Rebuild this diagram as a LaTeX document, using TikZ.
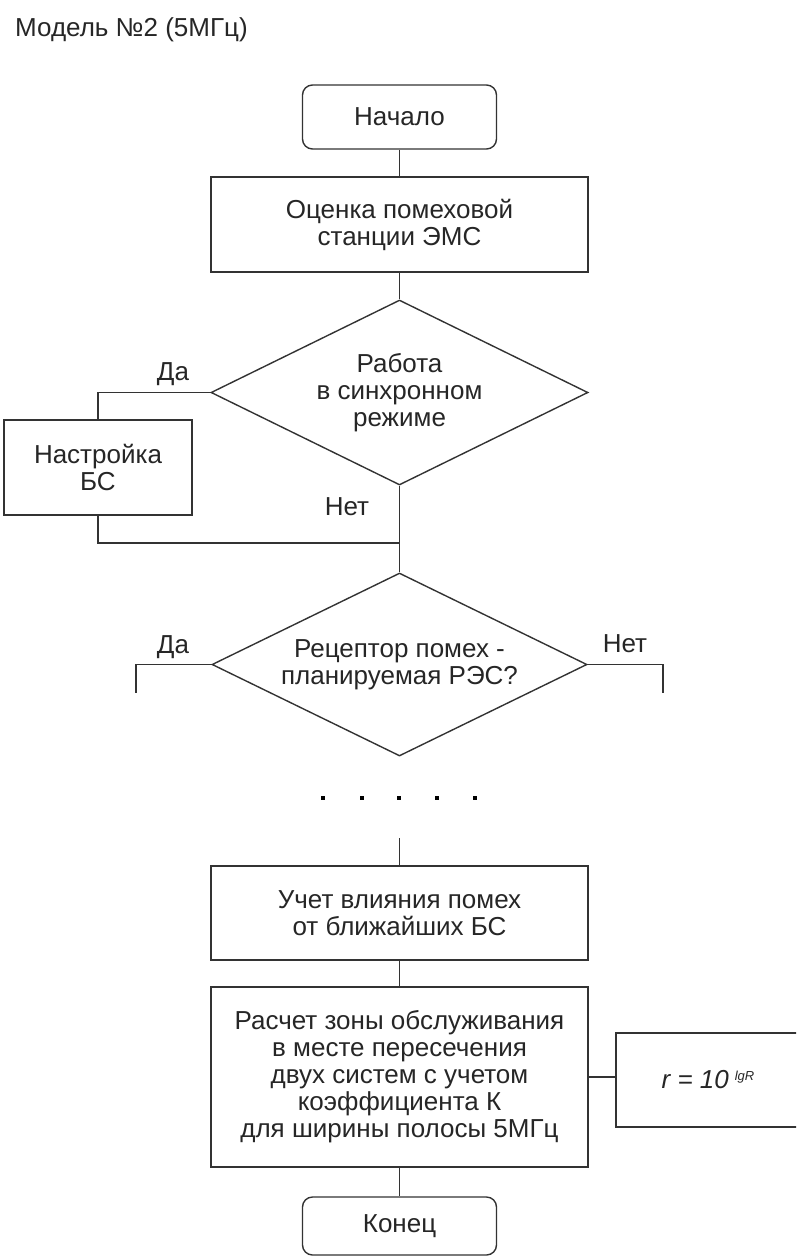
\documentclass[tikz,border=0pt]{standalone}
\usepackage{fontspec}
\setmainfont{Liberation Sans}
\usetikzlibrary{shapes.geometric}
\colorlet{linecol}{black!80}
\colorlet{txtcol}{black!85}
\tikzstyle{txt}=[text=txtcol,font=\fontsize{26}{27}\selectfont,align=center,inner sep=0]
\tikzstyle{block}=[txt,draw=linecol,line width=1.4,minimum width=377,minimum height=95]
\tikzstyle{terminal}=[block,rounded corners=10,minimum width=194,minimum height=64]
\tikzstyle{decision}=[txt,diamond,draw=linecol,line width=1.4,aspect=2.04,
  minimum width=377,minimum height=185]
\tikzstyle{flow}=[linecol,line width=1.4]
\tikzstyle{label}=[txt,anchor=base]
\def\Xc{399.5}

\begin{document}
\begin{tikzpicture}[x=1pt,y=-1pt]
  \useasboundingbox (0,0) rectangle (796,1258);
  \clip (0,0) rectangle (796,1258);

  % TITLE
  \node[txt,anchor=base west] (title) at (15,36) {Модель №2 (5МГц)};

  % BLOCKS
  \node[terminal] (start) at (\Xc,117) {Начало};
  \node[block] (est) at (\Xc,224.5) {Оценка помеховой\\станции ЭМС};
  \node[decision] (sync) at (\Xc,392.5) {Работа\\в синхронном\\режиме};
  \node[block,minimum width=188] (tune) at (98,467.5) {Настройка\\БС};
  \node[decision,minimum width=375,minimum height=183] (recep) at (\Xc,664.5)
    {Рецептор помех -\\планируемая РЭС?};
  \node[block,minimum height=94] (infl) at (\Xc,913) {Учет влияния помех\\от ближайших БС};
  \node[block,minimum height=180] (calc) at (\Xc,1077)
    {Расчет зоны обслуживания\\в месте пересечения\\двух систем с учетом\\коэффициента К\\для ширины полосы 5МГц};
  \node[terminal,minimum height=58] (end) at (\Xc,1226) {Конец};
  \node[block,minimum width=184,minimum height=94] (rbox) at (708,1080)
    {\itshape r = 10\hspace{6pt}\raisebox{8pt}{\fontsize{13}{13}\selectfont lgR}};

  \coordinate (merge) at (\Xc,543);
  \coordinate (yesend) at (136,693);
  \coordinate (noend) at (663,693);
  \coordinate (gap) at (\Xc,838);

  % CONNECTORS
  \draw[flow] (start) -- (est);
  \draw[flow] (est) -- (sync);
  \draw[flow] (sync.west) -| (tune.north);
  \draw[flow] (tune.south) |- (merge);
  \draw[flow] (sync.south) -- (recep.north);
  \draw[flow] (recep.west) -| (yesend);
  \draw[flow] (recep.east) -| (noend);
  \draw[flow] (gap) -- (infl.north);
  \draw[flow] (infl) -- (calc);
  \draw[flow] (calc) -- (end);
  \draw[flow] (calc.east) -- (calc.east -| rbox.west);

  % LABELS
  \node[label] (yes1) at (173,380) {Да};
  \node[label] (no1) at (347,515) {Нет};
  \node[label] (yes2) at (173,653) {Да};
  \node[label] (no2) at (625,652) {Нет};

  % DOTS
  \foreach \x in {323,362,399,437,475}{
    \fill[black] (\x-2,796) rectangle (\x+2,800);
  }
\end{tikzpicture}
\end{document}
